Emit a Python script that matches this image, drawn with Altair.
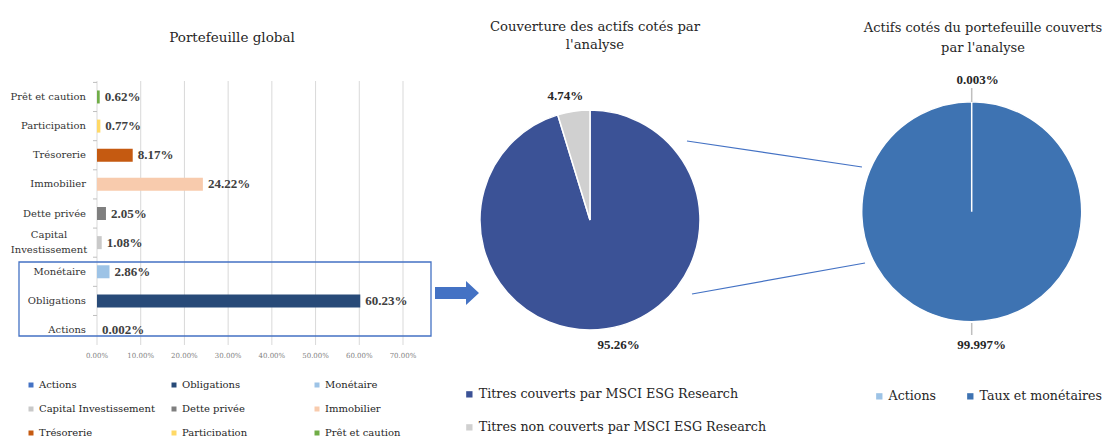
import altair as alt
import pandas as pd

# ---------------- data ----------------
# Left panel: "Portefeuille global" (bottom -> top order, also legend order)
categories = ["Actions", "Obligations", "Monétaire", "Capital Investissement",
              "Dette privée", "Immobilier", "Trésorerie", "Participation", "Prêt et caution"]
axis_labels = ["Actions", "Obligations", "Monétaire", "Capital\nInvestissement",
               "Dette privée", "Immobilier", "Trésorerie", "Participation", "Prêt et caution"]
shares = [0.00002, 0.6023, 0.0286, 0.0108, 0.0205, 0.2422, 0.0817, 0.0077, 0.0062]
share_labels = ["0.002%", "60.23%", "2.86%", "1.08%", "2.05%", "24.22%", "8.17%", "0.77%", "0.62%"]
bar_colors = ["#4472C4", "#284A78", "#9DC3E6", "#C9C9C9", "#7F7F7F",
              "#F8CBAD", "#C55A11", "#FFD966", "#70AD47"]
x_ticks = [0.0, 0.1, 0.2, 0.3, 0.4, 0.5, 0.6, 0.7]

# Middle pie: coverage
cov_names = ["Titres  couverts par MSCI ESG Research", "Titres non couverts par MSCI ESG Research"]
cov_values = [95.26, 4.74]
cov_labels = ["95.26%", "4.74%"]
cov_colors = ["#3B5296", "#D0D0D0"]

# Right pie: covered listed assets
cls_names = ["Actions", "Taux et monétaires"]
cls_values = [0.003, 99.997]
cls_labels = ["0.003%", "99.997%"]
cls_colors = ["#9DC3E6", "#3E73B2"]

titles = ["Portefeuille global",
          "Couverture des actifs cotés par\nl'analyse",
          "Actifs cotés du portefeuille couverts\npar l'analyse"]

# ---------------- tables ----------------
bars = pd.DataFrame({"cat": categories, "axis_label": axis_labels,
                     "value": shares, "lab": share_labels})
bars["nlines"] = bars["axis_label"].str.count("\n") + 1
ticks = pd.DataFrame({"t": x_ticks})
cov = pd.DataFrame({"name": cov_names, "v": cov_values, "lab": cov_labels,
                    "idx": list(range(len(cov_names)))})
cls = pd.DataFrame({"name": cls_names, "v": cls_values, "lab": cls_labels,
                    "idx": list(range(len(cls_names)))})
one = pd.DataFrame({"k": [0]})

SERIF = "DejaVu Serif"
NUM = "Liberation Serif"
BLUE = "#4472C4"

x_scale = alt.Scale(domain=[0, 0.7], range=[89, 395], nice=False, zero=True)
y_scale = alt.Scale(domain=list(reversed(categories)), range=[74.4, 336.6],
                    paddingInner=0.55, paddingOuter=0.275)

# ---------------- left panel ----------------
grid = alt.Chart(ticks).mark_rule(color="#D9D9D9", strokeWidth=1).encode(
    x=alt.X("t:Q", scale=x_scale, axis=None),
    y=alt.value(73), y2=alt.value(337))

ytick_marks = alt.Chart(bars).mark_rule(color="#BFBFBF", strokeWidth=1).encode(
    x=alt.value(85), x2=alt.value(89),
    y=alt.Y("cat:N", scale=y_scale, axis=None, bandPosition=0),
    yOffset=alt.value(-8))

xlabels = alt.Chart(ticks).mark_text(font=SERIF, fontSize=7, color="#7F7F7F",
                                     baseline="middle").encode(
    x=alt.X("t:Q", scale=x_scale, axis=None),
    y=alt.value(348),
    text=alt.Text("t:Q", format=".2%"))

bar = alt.Chart(bars).mark_bar(height=13).encode(
    x=alt.X("value:Q", scale=x_scale, axis=None),
    y=alt.Y("cat:N", scale=y_scale, axis=None),
    color=alt.Color("cat:N",
                    scale=alt.Scale(domain=categories, range=bar_colors),
                    legend=alt.Legend(orient="none", legendX=18, legendY=372,
                                      direction="horizontal", columns=3,
                                      title=None, symbolType="square",
                                      symbolSize=25, symbolStrokeWidth=0,
                                      labelFont=SERIF, labelFontSize=10,
                                      labelColor="#262626", labelOffset=3,
                                      rowPadding=14, columnPadding=14,
                                      gridAlign="all", padding=0)))

bar_text = alt.Chart(bars).mark_text(align="left", baseline="middle", dx=5,
                                     font=NUM, fontWeight="bold", fontSize=13,
                                     color="#404040").encode(
    x=alt.X("value:Q", scale=x_scale, axis=None),
    y=alt.Y("cat:N", scale=y_scale, axis=None),
    text="lab:N")

ylabels_single = alt.Chart(bars).transform_filter(alt.datum.nlines == 1).mark_text(
    align="right", baseline="middle", font=SERIF, fontSize=10,
    color="#333333").encode(
    x=alt.value(78),
    y=alt.Y("cat:N", scale=y_scale, axis=None),
    text="axis_label:N")
ylabels_multi = alt.Chart(bars).transform_filter(alt.datum.nlines == 2).mark_text(
    align="center", baseline="middle", font=SERIF, fontSize=10,
    color="#333333", lineBreak="\n", lineHeight=15, dy=-7.5).encode(
    x=alt.value(41),
    y=alt.Y("cat:N", scale=y_scale, axis=None),
    text="axis_label:N")

t1 = alt.Chart(pd.DataFrame({"t": [titles[0]]})).mark_text(
    font=SERIF, fontSize=13.5, color="#262626", baseline="middle").encode(
    x=alt.value(224), y=alt.value(30), text="t:N")

box = alt.Chart(one).mark_rect(fill="white", fillOpacity=0, stroke=BLUE,
                               strokeWidth=1.3).encode(
    x=alt.value(11), x2=alt.value(423), y=alt.value(254), y2=alt.value(328))

arrow_path = "M-1,-0.27L0.41,-0.27L0.41,-0.55L1,0L0.41,0.55L0.41,0.27L-1,0.27Z"
arrow = alt.Chart(one).mark_point(shape=arrow_path, size=1936, filled=True,
                                  color=BLUE, opacity=1, strokeWidth=0).encode(
    x=alt.value(449), y=alt.value(285))

# ---------------- middle pie ----------------
CX1, CY1 = 582, 212
pie1 = alt.Chart(cov).mark_arc(radius=110, stroke="white", strokeWidth=1.5).encode(
    theta=alt.Theta("v:Q", stack=True),
    order=alt.Order("idx:Q"),
    x=alt.value(CX1), y=alt.value(CY1),
    color=alt.Color("name:N", scale=alt.Scale(domain=cov_names, range=cov_colors),
                    legend=alt.Legend(orient="none", legendX=455, legendY=380,
                                      direction="vertical", title=None,
                                      symbolType="square", symbolSize=40,
                                      symbolStrokeWidth=0, labelFont=SERIF,
                                      labelFontSize=12.7, labelColor="#262626",
                                      labelOffset=3, rowPadding=19, padding=0,
                                      labelLimit=400)))


def pie_label(df, idx, cx, cy, radius, dx):
    return alt.Chart(df).mark_text(radius=radius, font=NUM, fontWeight="bold",
                                   fontSize=13, color="#262626", dx=dx).encode(
        theta=alt.Theta("v:Q", stack=True),
        order=alt.Order("idx:Q"),
        x=alt.value(cx), y=alt.value(cy),
        text="lab:N",
        opacity=alt.condition(alt.datum.idx == idx, alt.value(1), alt.value(0)))


pie1_text_a = pie_label(cov, 0, CX1, CY1, 126, 10)
pie1_text_b = pie_label(cov, 1, CX1, CY1, 125, -6)

t2 = alt.Chart(pd.DataFrame({"t": [titles[1]]})).mark_text(
    font=SERIF, fontSize=13.2, color="#262626", baseline="middle",
    lineBreak="\n", lineHeight=18).encode(
    x=alt.value(587), y=alt.value(19), text="t:N")

# ---------------- right pie ----------------
CX2, CY2 = 963.7, 203.7
pie2 = alt.Chart(cls).mark_arc(radius=110, stroke="white", strokeWidth=1.5).encode(
    theta=alt.Theta("v:Q", stack=True),
    order=alt.Order("idx:Q"),
    x=alt.value(CX2), y=alt.value(CY2),
    color=alt.Color("name:N", scale=alt.Scale(domain=cls_names, range=cls_colors),
                    legend=alt.Legend(orient="none", legendX=865, legendY=382,
                                      direction="horizontal", title=None,
                                      symbolType="square", symbolSize=40,
                                      symbolStrokeWidth=0, labelFont=SERIF,
                                      labelFontSize=12.6, labelColor="#262626",
                                      labelOffset=3, columnPadding=28, padding=0)))
pie2_text_a = pie_label(cls, 0, CX2, CY2, 132, 6)
pie2_text_b = pie_label(cls, 1, CX2, CY2, 133, 10)

lead_top = alt.Chart(one).mark_rule(color="#BFBFBF", strokeWidth=1.5).encode(
    x=alt.value(CX2), y=alt.value(80), y2=alt.value(94))
lead_bot = alt.Chart(one).mark_rule(color="#BFBFBF", strokeWidth=1.5).encode(
    x=alt.value(CX2), y=alt.value(315), y2=alt.value(327))
t3 = alt.Chart(pd.DataFrame({"t": [titles[2]]})).mark_text(
    font=SERIF, fontSize=13, color="#262626", baseline="middle",
    lineBreak="\n", lineHeight=20).encode(
    x=alt.value(975), y=alt.value(20), text="t:N")

# connectors between pies
conn1 = alt.Chart(one).mark_rule(color=BLUE, strokeWidth=1.2).encode(
    x=alt.value(679), y=alt.value(133), x2=alt.value(854), y2=alt.value(159))
conn2 = alt.Chart(one).mark_rule(color=BLUE, strokeWidth=1.2).encode(
    x=alt.value(684), y=alt.value(286), x2=alt.value(857), y2=alt.value(255))

chart = alt.layer(
    grid, ytick_marks, xlabels, bar, bar_text, ylabels_single, ylabels_multi, t1,
    box, arrow, conn1, conn2,
    pie1, pie1_text_a, pie1_text_b, t2,
    pie2, pie2_text_a, pie2_text_b, lead_top, lead_bot, t3,
).resolve_scale(
    color="independent", theta="independent"
).properties(
    width=1096, height=428, padding=0,
    autosize=alt.AutoSizeParams(type="none"),
).configure_view(stroke=None)

chart.save("out.html", embed_options={"renderer": "svg", "actions": False})
